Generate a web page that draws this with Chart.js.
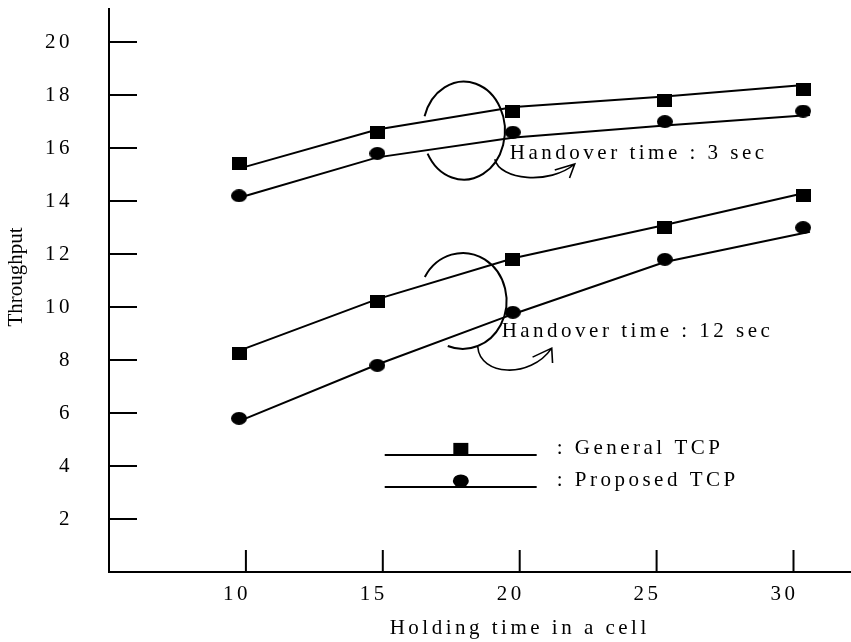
<!DOCTYPE html>
<html>
<head>
<meta charset="utf-8">
<script src="https://cdn.jsdelivr.net/npm/chart.js@4.4.1/dist/chart.umd.min.js"></script>
<style>
  html, body { margin: 0; padding: 0; background: #fff; }
  #wrap { width: 851px; height: 642px; }
</style>
</head>
<body>
<div id="wrap"><canvas id="chart"></canvas></div>
<script>
// holding time (x) where the markers sit, and where the drawn lines bend
const markerX = [9.75, 14.8, 19.75, 25.3, 30.35];
const lineX = [10, 14.8, 19.8, 25.3, 30.6];

// measured throughput (markers)
const general3 = [15.4, 16.6, 17.4, 17.8, 18.2];
const proposed3 = [14.2, 15.8, 16.6, 17.0, 17.4];
const general12 = [8.25, 10.2, 11.8, 13.0, 14.2];
const proposed12 = [5.8, 7.8, 9.8, 11.8, 13.0];

// the lines drawn through them
const general3Line = [15.3, 16.7, 17.55, 17.95, 18.4];
const proposed3Line = [14.2, 15.65, 16.4, 16.85, 17.25];
const general12Line = [8.45, 10.3, 11.85, 13.1, 14.35];
const proposed12Line = [5.8, 7.83, 9.75, 11.7, 12.84];

const xTicks = [10, 15, 20, 25, 30];
const yTicks = [2, 4, 6, 8, 10, 12, 14, 16, 18, 20];
const seriesNames = [': General TCP', ': Proposed TCP'];
const groupNames = ['Handover time : 3 sec', 'Handover time : 12 sec'];

const serif = "'Liberation Serif', 'Times New Roman', serif";

function blob(w, h, round) {
  const c = document.createElement('canvas');
  c.width = w; c.height = h;
  const g = c.getContext('2d');
  g.fillStyle = '#000';
  if (round) {
    g.beginPath();
    g.ellipse(w / 2, h / 2, w / 2, h / 2, 0, 0, Math.PI * 2);
    g.fill();
  } else {
    g.fillRect(0, 0, w, h);
  }
  return c;
}
const square = blob(15, 13, false);
const dot = blob(16, 13, true);

const pts = (xs, ys) => xs.map((x, i) => ({ x: x, y: ys[i] }));

function lineSet(ys) {
  return { data: pts(lineX, ys), showLine: true, borderColor: '#000', borderWidth: 2,
           pointRadius: 0, tension: 0, fill: false };
}
function markSet(ys, img) {
  return { data: pts(markerX, ys), showLine: false, pointStyle: img, pointRadius: 8,
           backgroundColor: '#000', borderColor: '#000' };
}

const decor = {
  id: 'decor',
  beforeDraw(chart) {
    chart.ctx.letterSpacing = '3.5px';
  },
  afterDraw(chart) {
    const ctx = chart.ctx;
    const xs = chart.scales.x, ys = chart.scales.y;
    const px = v => xs.getPixelForValue(v);
    const py = v => ys.getPixelForValue(v);
    const area = chart.chartArea;

    ctx.save();
    ctx.strokeStyle = '#000';
    ctx.fillStyle = '#000';
    ctx.lineWidth = 2;

    // inward tick marks
    ctx.beginPath();
    yTicks.forEach(v => { ctx.moveTo(area.left, py(v)); ctx.lineTo(area.left + 28, py(v)); });
    xTicks.forEach(v => { ctx.moveTo(px(v), area.bottom); ctx.lineTo(px(v), area.bottom - 22); });
    ctx.stroke();

    // grouping ellipses
    const ellipse = (cx, cy, rx, ry, a0, a1) => {
      const x0 = px(cx), y0 = py(cy);
      ctx.beginPath();
      ctx.ellipse(x0, y0, px(cx + rx) - x0, y0 - py(cy + ry), 0, a0 * Math.PI / 180, a1 * Math.PI / 180);
      ctx.stroke();
    };
    ellipse(17.96, 16.66, 1.5, 1.85, 197, 152);
    ellipse(17.92, 10.23, 1.6, 1.81, 210, 110);

    // curved arrows
    const arrow = (p) => {
      ctx.beginPath();
      ctx.moveTo(px(p[0]), py(p[1]));
      ctx.bezierCurveTo(px(p[2]), py(p[3]), px(p[4]), py(p[5]), px(p[6]), py(p[7]));
      ctx.moveTo(px(p[8]), py(p[9]));
      ctx.lineTo(px(p[6]), py(p[7]));
      ctx.lineTo(px(p[10]), py(p[11]));
      ctx.stroke();
    };
    ctx.lineWidth = 1.6;
    arrow([19.09, 15.58, 19.27, 14.79, 21.09, 14.6, 22.01, 15.4, 21.28, 15.17, 21.82, 14.87]);
    arrow([18.47, 8.49, 18.54, 7.43, 20.36, 7.25, 21.17, 8.45, 20.47, 8.11, 21.2, 7.89]);

    // group labels
    ctx.font = '21px ' + serif;
    ctx.textAlign = 'left';
    ctx.textBaseline = 'alphabetic';
    ctx.fillText(groupNames[0], px(19.64), py(15.58));
    ctx.fillText(groupNames[1], px(19.34), py(8.87));

    // legend
    ctx.lineWidth = 2;
    const legY = [4.42, 3.21];
    ctx.beginPath();
    legY.forEach(v => { ctx.moveTo(px(15.07), py(v)); ctx.lineTo(px(20.62), py(v)); });
    ctx.stroke();
    const mx = px(17.85);
    ctx.fillRect(mx - 7.5, py(legY[0]) - 12, 15, 12);
    ctx.beginPath();
    ctx.ellipse(mx, py(legY[1]) - 6, 8, 6.5, 0, 0, Math.PI * 2);
    ctx.fill();
    ctx.fillText(seriesNames[0], px(21.35), py(4.45));
    ctx.fillText(seriesNames[1], px(21.35), py(3.25));

    // axis titles
    ctx.fillText('Holding time in a cell', px(15.25), area.bottom + 62);
    ctx.letterSpacing = '0px';
    ctx.translate(22, 277);
    ctx.rotate(-Math.PI / 2);
    ctx.textAlign = 'center';
    ctx.fillText('Throughput', 0, 0);
    ctx.restore();
  }
};

new Chart(document.getElementById('chart'), {
  type: 'scatter',
  data: {
    datasets: [
      lineSet(general3Line), lineSet(proposed3Line),
      lineSet(general12Line), lineSet(proposed12Line),
      markSet(general3, square), markSet(proposed3, dot),
      markSet(general12, square), markSet(proposed12, dot)
    ]
  },
  options: {
    animation: false,
    responsive: true,
    maintainAspectRatio: false,
    devicePixelRatio: 1,
    layout: { padding: { top: 9, left: 0, right: 0, bottom: 0 }, autoPadding: false },
    plugins: { legend: { display: false }, tooltip: { enabled: false } },
    scales: {
      x: {
        type: 'linear', min: 5, max: 32.1,
        afterBuildTicks: s => { s.ticks = xTicks.map(v => ({ value: v })); },
        afterFit: s => { s.height = 70; s.paddingLeft = 0; s.paddingRight = 0; },
        grid: { drawOnChartArea: false, drawTicks: false },
        border: { color: '#000', width: 2 },
        ticks: { color: '#000', font: { family: serif, size: 21 }, padding: 10,
                 labelOffset: -9, maxRotation: 0, autoSkip: false }
      },
      y: {
        type: 'linear', min: 0, max: 21.25,
        afterBuildTicks: s => { s.ticks = yTicks.map(v => ({ value: v })); },
        afterFit: s => { s.width = 109; s.paddingTop = 0; s.paddingBottom = 0; },
        grid: { drawOnChartArea: false, drawTicks: false },
        border: { color: '#000', width: 2 },
        ticks: { color: '#000', font: { family: serif, size: 21 }, padding: 36, autoSkip: false }
      }
    }
  },
  plugins: [decor]
});
</script>
</body>
</html>
